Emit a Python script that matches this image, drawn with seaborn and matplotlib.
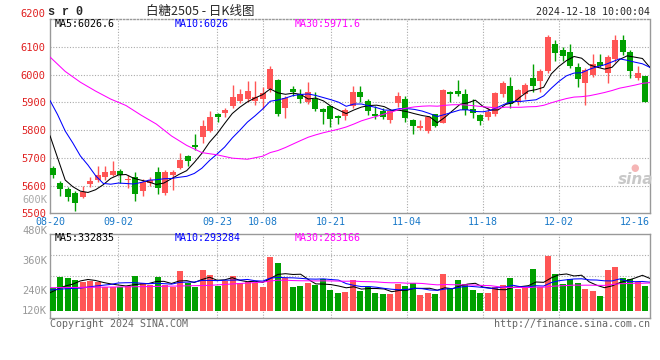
import numpy as np
import pandas as pd
import matplotlib
matplotlib.use("Agg")
import matplotlib.pyplot as plt
import seaborn as sns

# daily OHLC for 80 trading days 2024-08-20 .. 2024-12-18
opens = [5664, 5611, 5589, 5575, 5560, 5605, 5619, 5630, 5640, 5653,
         5620, 5630, 5580, 5610, 5650, 5572, 5637, 5663, 5708, 5747,
         5775, 5798, 5857, 5863, 5886, 5907, 5911, 5905, 5911, 5949,
         5981, 5881, 5950, 5930, 5901, 5912, 5876, 5886, 5850, 5850,
         5888, 5936, 5905, 5857, 5868, 5836, 5897, 5911, 5836, 5807,
         5798, 5860, 5827, 5937, 5943, 5932, 5877, 5856, 5848, 5858,
         5930, 5961, 5901, 5931, 5989, 5977, 6013, 6110, 6088, 6081,
         6027, 5971, 5999, 6046, 6008, 6058, 6125, 6082, 5990, 5996]
highs = [5672, 5617, 5595, 5580, 5598, 5632, 5670, 5672, 5687, 5659,
         5637, 5648, 5622, 5632, 5668, 5658, 5655, 5717, 5711, 5786,
         5836, 5869, 5863, 5881, 5962, 5949, 5979, 5976, 5955, 6031,
         5983, 5925, 5958, 5949, 5975, 5937, 5881, 5888, 5856, 5881,
         5960, 5960, 5912, 5886, 5881, 5877, 5937, 5922, 5841, 5836,
         5850, 5860, 5950, 5943, 5982, 5948, 5914, 5860, 5881, 5938,
         5976, 5993, 5949, 5969, 6040, 6020, 6145, 6125, 6101, 6110,
         6043, 6023, 6074, 6074, 6071, 6143, 6145, 6088, 6030, 5996]
lows = [5626, 5562, 5544, 5509, 5556, 5596, 5612, 5619, 5635, 5608,
        5590, 5545, 5561, 5600, 5570, 5565, 5585, 5660, 5669, 5729,
        5753, 5794, 5830, 5848, 5881, 5898, 5901, 5889, 5877, 5937,
        5850, 5844, 5925, 5898, 5895, 5869, 5823, 5812, 5824, 5835,
        5881, 5900, 5856, 5841, 5841, 5825, 5883, 5830, 5787, 5800,
        5791, 5812, 5825, 5901, 5925, 5855, 5845, 5819, 5838, 5850,
        5919, 5881, 5892, 5911, 5937, 5939, 6008, 6050, 6050, 6026,
        5955, 5889, 5991, 6029, 5969, 6046, 6070, 5990, 5981, 5901]
closes = [5639, 5588, 5560, 5537, 5576, 5615, 5637, 5650, 5652, 5637,
          5624, 5570, 5614, 5620, 5592, 5650, 5648, 5693, 5687, 5740,
          5814, 5847, 5848, 5873, 5918, 5929, 5943, 5918, 5933, 6021,
          5858, 5917, 5938, 5912, 5937, 5875, 5866, 5841, 5844, 5873,
          5939, 5919, 5869, 5851, 5847, 5870, 5922, 5844, 5814, 5814,
          5847, 5814, 5944, 5932, 5930, 5872, 5863, 5833, 5864, 5933,
          5971, 5895, 5944, 5963, 5958, 6014, 6136, 6080, 6067, 6032,
          5983, 6017, 6038, 6032, 6064, 6125, 6082, 6014, 6008, 5901]
# volume in thousands of lots
volumes = [230, 350, 340, 316, 298, 305, 298, 240, 240, 240,
           257, 357, 285, 261, 346, 264, 247, 412, 281, 247,
           418, 367, 257, 302, 357, 281, 298, 281, 240, 556,
           494, 336, 240, 254, 288, 264, 326, 213, 182, 196,
           316, 206, 244, 182, 172, 175, 271, 254, 285, 165,
           182, 172, 377, 233, 316, 274, 213, 182, 182, 240,
           264, 336, 220, 230, 429, 247, 566, 377, 274, 326,
           285, 223, 202, 151, 418, 449, 336, 326, 295, 254]

# moving averages before a full window exists
ma5_head_idx, ma5_head = [0, 1, 2, 3], [5780, 5700, 5620, 5596]
ma10_head_idx = [0, 1, 2, 3, 4, 5, 6, 7, 8]
ma10_head = [5907, 5856, 5797, 5754, 5707, 5674, 5636, 5608, 5605]
ma30_head_idx = [0, 2, 4, 6, 8, 10, 12, 14, 16, 18, 20, 22, 24, 26, 28]
ma30_head = [6064, 6012, 5973, 5941, 5912, 5889, 5854, 5822, 5779, 5745,
             5719, 5711, 5699, 5695, 5706]
vma5_head_idx, vma5_head = [0, 1, 2, 3], [185, 223, 254, 274]
vma10_head_idx, vma10_head = [0, 2, 4, 6, 8], [213, 226, 233, 254, 271]
vma30_head_idx, vma30_head = [0, 7, 14, 21, 28], [237, 243, 250, 261, 295]

tick_labels = ['08-20', '09-02', '09-23', '10-08', '10-21', '11-04', '11-18', '12-02', '12-16']
tick_idx = [0, 9, 22, 28, 37, 47, 57, 67, 77]
grid_labels = ['09-02', '09-23', '10-08', '10-21', '11-04', '11-18', '12-02']

RED, GREEN = '#ff5555', '#00a000'
GRID = '#aaaaaa'
MA_COLORS = ['black', '#0000ff', '#ff00ff']

sns.set_theme(style='white')
plt.rcParams['font.family'] = ['DejaVu Sans Mono', 'Noto Sans CJK SC']

n = len(closes)
df = pd.DataFrame({'open': opens, 'high': highs, 'low': lows, 'close': closes, 'vol': volumes})
df['x'] = np.arange(n)
df['dir'] = np.where(df['close'] >= df['open'], 'up', 'down')

W, H = 660, 360
fig = plt.figure(figsize=(6.6, 3.6), dpi=100)


def box(l, t, r, b):
    return [l / W, 1 - b / H, (r - l) / W, (b - t) / H]


def ftext(x, y, s, **kw):
    fig.text(x / W, 1 - y / H, s, va='center', **kw)


ax = fig.add_axes(box(50, 19.3, 650, 213.3))
axv = fig.add_axes(box(50, 234.3, 650, 318.3))

x0 = -0.36
line_step = n / (n - 1)  # MA lines and grid span the full width


def ma_series(values, window, head_idx, head_vals):
    ma = pd.Series(values, dtype=float).rolling(window).mean()
    idx = list(head_idx) + list(range(window - 1, n))
    vals = list(head_vals) + list(ma[window - 1:])
    return pd.DataFrame({'x': [x0 + i * line_step for i in idx], 'y': vals})


# --- candles
cols = [RED if d == 'up' else GREEN for d in df['dir']]
ax.vlines(df['x'], df['low'], df['high'], colors=cols, lw=1.0, zorder=3)
body_lo = np.minimum(df['open'], df['close'])
body_h = np.maximum(np.abs(df['close'] - df['open']), 3.6)
ax.bar(df['x'], body_h, bottom=body_lo, width=0.76, color=cols, lw=0, zorder=4)

for (w, hi, hv), c in zip([(5, ma5_head_idx, ma5_head), (10, ma10_head_idx, ma10_head),
                           (30, ma30_head_idx, ma30_head)], MA_COLORS):
    d = ma_series(closes, w, hi, hv)
    sns.lineplot(data=d, x='x', y='y', color=c, lw=0.75, ax=ax, sort=False,
                 estimator=None, zorder=5)

ax.set_xlim(x0, x0 + n)
ax.set_ylim(5500, 6200)
ax.set_yticks(range(5500, 6201, 100))
ax.set_yticklabels([str(v) for v in range(5500, 6201, 100)])
ax.tick_params(axis='y', length=0, pad=3, labelcolor='#e02020', labelsize=7.5)
ax.get_yticklabels()[-1].set_va('bottom')
ax.set_xticks([x0 + i * line_step for i in tick_idx])
ax.set_xticklabels(tick_labels)
ax.tick_params(axis='x', length=0, pad=3, labelcolor='#1878c8', labelsize=7.2)
ax.set_xlabel('')
ax.set_ylabel('')
for v in range(5600, 6200, 100):
    ax.axhline(v, color=GRID, lw=0.8, ls=(0, (1, 1.5)), zorder=1)

# --- volume
sns.barplot(data=df, x='x', y='vol', hue='dir', palette={'up': RED, 'down': GREEN},
            native_scale=True, dodge=False, width=0.76, saturation=1, linewidth=0,
            legend=False, ax=axv, zorder=3)
for (w, hi, hv), c in zip([(5, vma5_head_idx, vma5_head), (10, vma10_head_idx, vma10_head),
                           (30, vma30_head_idx, vma30_head)], MA_COLORS):
    d = ma_series(volumes, w, hi, hv)
    sns.lineplot(data=d, x='x', y='y', color=c, lw=0.75, ax=axv, sort=False,
                 estimator=None, zorder=5)
axv.set_xlim(x0, x0 + n)
axv.set_ylim(-78, 787)
axv.set_xticks([])
axv.set_yticks([])
axv.set_xlabel('')
axv.set_ylabel('')
for v in (571, 354, 138):
    axv.axhline(v, color=GRID, lw=0.8, ls=(0, (1, 1.5)), zorder=1)

for a in (ax, axv):
    for lab in grid_labels:
        a.axvline(x0 + tick_idx[tick_labels.index(lab)] * line_step,
                  color=GRID, lw=0.8, ls=(0, (1, 1.5)), zorder=1)
    for s in a.spines.values():
        s.set_color('#999999')
        s.set_linewidth(1.0)
ax.spines['top'].set_linestyle((0, (1, 1.5)))

# --- texts
ftext(48, 12, 's r 0', fontsize=8.5, fontweight='bold', family=['Liberation Mono'])
ftext(200, 11, '白糖2505 - 日K线图', fontsize=9, ha='center', family=['Noto Sans CJK SC'])
ftext(650, 12, '2024-12-18 10:00:04', fontsize=7.2, ha='right')
for xx, s, c in [(55, 'MA5:6026.6', 'black'), (175, 'MA10:6026', '#0000ff'),
                 (295, 'MA30:5971.6', '#ff00ff')]:
    ftext(xx, 24, s, fontsize=7.2, color=c)
for xx, s, c in [(55, 'MA5:332835', 'black'), (175, 'MA10:293284', '#0000ff'),
                 (295, 'MA30:283166', '#ff00ff')]:
    ftext(xx, 238, s, fontsize=7.2, color=c)
for yy, s in [(231, '480K'), (261, '360K'), (291, '240K'), (311, '120K')]:
    ftext(47, yy, s, fontsize=7.5, ha='right', color='#999999')
ftext(47, 200, '600K', fontsize=7.5, ha='right', color='#aaaaaa')
ftext(50, 324, 'Copyright 2024 SINA.COM', fontsize=7.2, color='#666666')
ftext(650, 324, 'http://finance.sina.com.cn', fontsize=7.2, ha='right', color='#666666')
ftext(636, 180, 'sina', fontsize=11, ha='center', color='#c8c8c8',
      fontstyle='italic', fontweight='bold', family=['DejaVu Sans'])
ftext(635, 168, '●', fontsize=7, ha='center', color='#f5b5b5', family=['DejaVu Sans'])

fig.savefig('out.png', dpi=100)
